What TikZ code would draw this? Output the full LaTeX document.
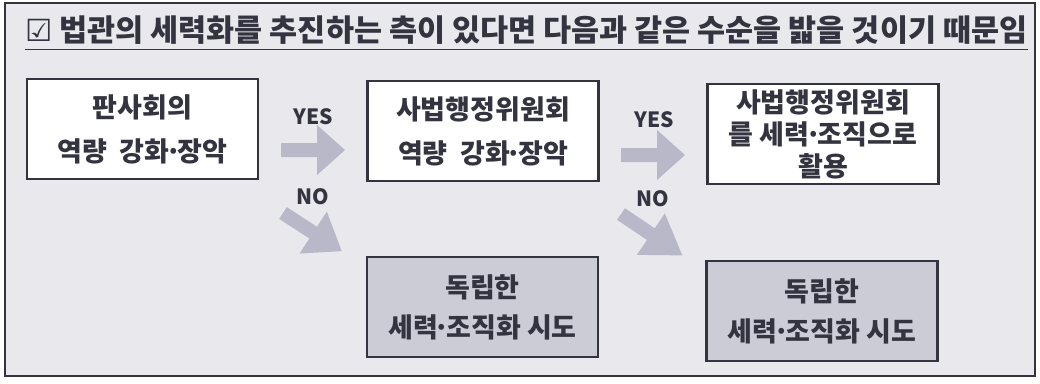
\documentclass[tikz,border=0pt]{standalone}
\usepackage{fontspec}
\setmainfont{Noto Sans CJK KR}
\newfontfamily\symfont{DejaVu Sans}
\definecolor{bg}{RGB}{232,232,237}
\definecolor{ink}{RGB}{52,52,64}
\definecolor{boxgray}{RGB}{204,204,214}
\definecolor{arr}{RGB}{184,184,201}
\newcommand{\mdot}{\kern-0.15em·\kern-0.15em}
\begin{document}
\begin{tikzpicture}[x=1pt,y=-1pt,
  box/.style={draw=ink, line width=2.6pt, minimum width=231pt, minimum height=100pt,
    align=center, text=ink, inner sep=0pt},
  whitebox/.style={box, fill=white},
  graybox/.style={box, fill=boxgray},
  lbl/.style={text=ink, font=\bfseries\fontsize{21}{21}\selectfont, inner sep=0pt},
  blockarrow/.pic={\fill[arr] (0,-7) -- (36,-7) -- (36,-25) -- (#1,0) -- (36,25) -- (36,7) -- (0,7) -- cycle;},
]
\useasboundingbox (0,0) rectangle (1040,383);
\fill[white] (0,0) rectangle (1040,383);
\draw[ink, line width=2.4pt, fill=bg] (5,3) rectangle (1035,376);

\node[anchor=west, text=ink, inner sep=0pt, font=\bfseries\fontsize{30.5}{31}\selectfont] (title) at (25,30)
  {{\symfont\bfseries ☑} 법관의 세력화를 추진하는 측이 있다면 다음과 같은 수순을 밟을 것이기 때문임};
\draw[ink, line width=1.6pt] ([yshift=-8pt]title.base west) -- ([yshift=-8pt]title.base east);

\node[whitebox, font=\bfseries\fontsize{27}{44}\selectfont] (b1) at (142.5,129) {판사회의\\역량~~강화\mdot 장악};
\node[whitebox, font=\bfseries\fontsize{27}{44}\selectfont] (b2) at (483,131) {사법행정위원회\\역량~~강화\mdot 장악};
\node[graybox, font=\bfseries\fontsize{27}{40}\selectfont] (b2n) at (482.5,307) {독립한\\세력\mdot 조직화 시도};
\node[whitebox, font=\bfseries\fontsize{27}{32}\selectfont] (b3) at (823,134) {사법행정위원회\\를 세력\mdot 조직으로\\활용};
\node[graybox, font=\bfseries\fontsize{27}{40}\selectfont] (b4) at (822,311) {독립한\\세력\mdot 조직화 시도};

\pic at (281,150) {blockarrow=64};
\pic[rotate=-33] at (283,213) {blockarrow=70};
\pic at (621,155) {blockarrow=64};
\pic[rotate=-34] at (621,214) {blockarrow=74};

\node[lbl] (yes1) at (313,117) {YES};
\node[lbl] (no1) at (313,197) {NO};
\node[lbl] (yes2) at (654,120) {YES};
\node[lbl] (no2) at (653,199) {NO};
\end{tikzpicture}
\end{document}
